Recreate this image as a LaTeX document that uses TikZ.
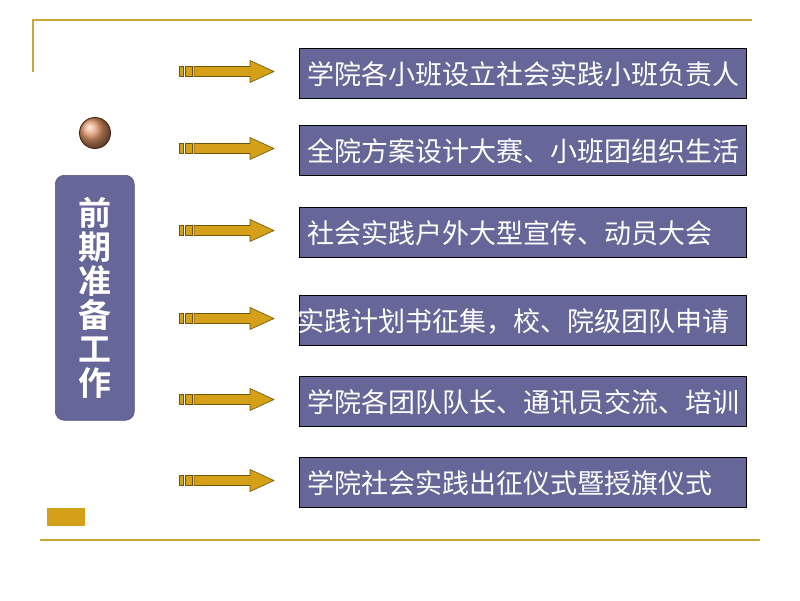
\documentclass[tikz,border=0pt]{standalone}
\usepackage{fontspec}
\newfontfamily\cjk{Noto Sans CJK SC}
\newfontfamily\cjkb{Noto Sans CJK SC Bold}
\definecolor{gold}{RGB}{200,168,60}
\definecolor{arrowgold}{RGB}{212,160,23}
\definecolor{arrowedge}{RGB}{110,85,10}
\definecolor{boxblue}{RGB}{102,102,153}
\definecolor{balldark}{RGB}{150,70,35}
\definecolor{ballcol}{RGB}{225,150,105}
\tikzset{
  itembox/.style={draw=black, line width=1pt, fill=boxblue, minimum width=447pt, minimum height=50pt, inner sep=0pt, anchor=north west},
  itemtext/.style={text=white, font=\cjk\fontsize{27}{30}\selectfont, anchor=west, inner sep=0pt},
  arrowpart/.style={fill=arrowgold, draw=arrowedge, line width=0.6pt},
  rule/.style={draw=gold, line width=2pt}
}
\begin{document}
\begin{tikzpicture}[x=1pt,y=-1pt]
\useasboundingbox (0,0) rectangle (800,600);
% decorative rules
\coordinate (tl) at (33,20);
\coordinate (tr) at (752,20);
\coordinate (tb) at (33,72);
\draw[rule] (tb) -- (tl) -- (tr);
\coordinate (bl) at (40,540);
\coordinate (br) at (760,540);
\draw[rule] (bl) -- (br);
\fill[arrowgold] (47,508) rectangle (85,526);
% ball
\shade[ball color=ballcol] (95,133) circle (15.5);
\draw[draw=black!50!balldark, line width=0.9pt] (95,133) circle (15.5);
% left box
\node[draw=boxblue!80!black, line width=0.6pt, fill=boxblue, rounded corners=9pt, minimum width=79pt, minimum height=245pt, anchor=north west, inner sep=0pt] (left) at (55,175) {};
\node[text=white, font=\cjkb\fontsize{33}{34}\selectfont, align=center, inner sep=0pt] (lefttext) at (left.center) {前\\期\\准\\备\\工\\作};
% item boxes
\foreach \i/\y/\t/\dx in {1/48/学院各小班设立社会实践小班负责人/0,
                       2/125/全院方案设计大赛、小班团组织生活/0,
                       3/207/社会实践户外大型宣传、动员大会/0,
                       4/295/实践计划书征集，校、院级团队申请/-10,
                       5/376/学院各团队队长、通讯员交流、培训/0,
                       6/457/学院社会实践出征仪式暨授旗仪式/0}{
  \node[itembox] (box\i) at (299,\y) {};
  \node[itemtext] (txt\i) at ([xshift=\dx pt+8pt, yshift=-1pt]box\i.west) {\t};
  % arrow
  \coordinate (a\i) at ([xshift=-25pt, yshift=2pt]box\i.west);
  \path[arrowpart] ([xshift=-95pt,yshift=-5pt]a\i) rectangle ([xshift=-91pt,yshift=5pt]a\i);
  \path[arrowpart] ([xshift=-89pt,yshift=-5pt]a\i) rectangle ([xshift=-82pt,yshift=5pt]a\i);
  \path[arrowpart] ([xshift=-80pt,yshift=-5pt]a\i) -- ([xshift=-24pt,yshift=-5pt]a\i)
     -- ([xshift=-24pt,yshift=-11pt]a\i) -- (a\i) -- ([xshift=-24pt,yshift=11pt]a\i)
     -- ([xshift=-24pt,yshift=5pt]a\i) -- ([xshift=-80pt,yshift=5pt]a\i) -- cycle;
}
\end{tikzpicture}
\end{document}
